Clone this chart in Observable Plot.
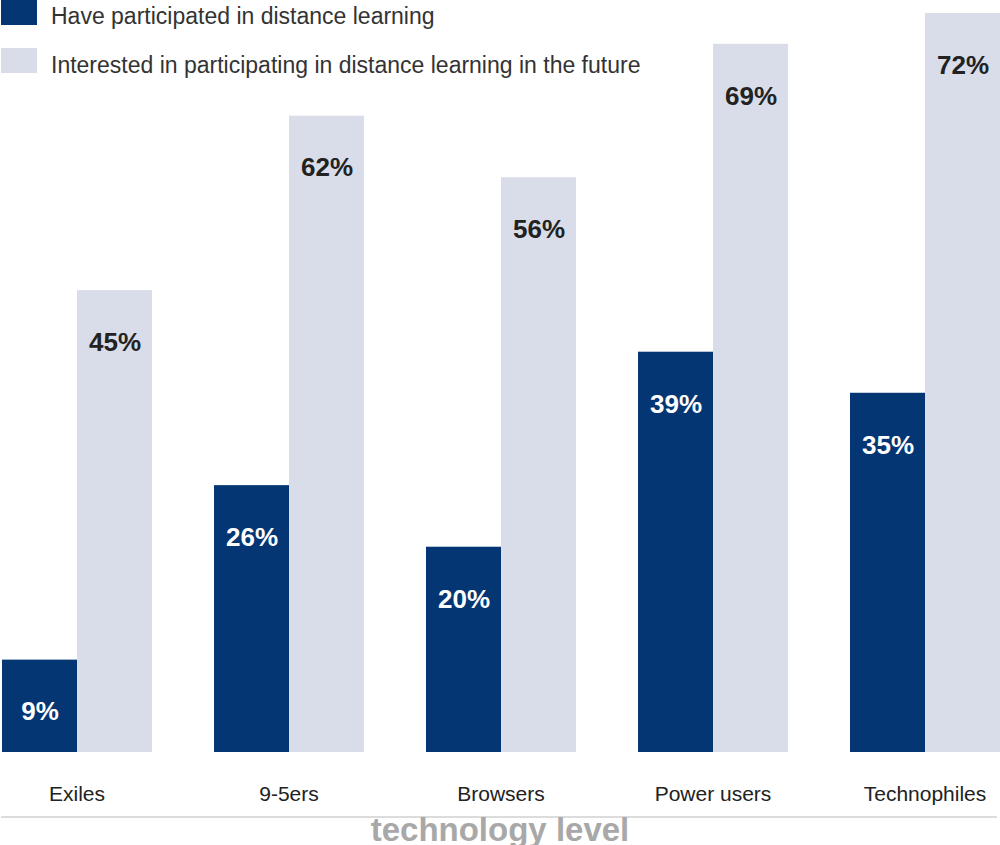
<!DOCTYPE html>
<html>
<head>
<meta charset="utf-8">
<script src="https://cdn.jsdelivr.net/npm/d3@7"></script>
<script src="https://cdn.jsdelivr.net/npm/@observablehq/plot@0.6"></script>
<style>
  html, body { margin: 0; padding: 0; background: #fff; }
  body { font-family: "Liberation Sans", Arial, sans-serif; }
  #wrap { position: relative; width: 1000px; height: 845px; overflow: hidden; }
  #chart { position: absolute; left: 0; top: 0; }
  .sw { position: absolute; left: 1px; width: 36px; height: 25px; }
  .lt { position: absolute; left: 51px; font-size: 23px; line-height: 23px; color: #333; white-space: nowrap; }
  #rule { position: absolute; left: 1px; top: 816px; width: 996px; height: 2px; background: #dcdcdc; }
  #caption { position: absolute; left: 0; width: 1000px; top: 813px; text-align: center; font-size: 33px; line-height: 33px; font-weight: bold; color: #a8a8a8; }
</style>
</head>
<body>
<div id="wrap">
  <div id="chart"></div>
  <div id="legend"></div>
  <div id="rule"></div>
  <div id="caption">technology level</div>
</div>
<script>
const categories = ["Exiles", "9-5ers", "Browsers", "Power users", "Technophiles"];
const participated = [9, 26, 20, 39, 35];
const interested = [45, 62, 56, 69, 72];
const seriesNames = [
  "Have participated in distance learning",
  "Interested in participating in distance learning in the future"
];
const seriesColors = ["#043673", "#d9dde9"];

const data = categories.flatMap((c, i) => [
  {category: c, series: seriesNames[0], value: participated[i]},
  {category: c, series: seriesNames[1], value: interested[i]}
]);

const chart = Plot.plot({
  width: 1000,
  height: 815,
  marginTop: 13,
  marginBottom: 63,
  marginLeft: 1,
  marginRight: 0,
  style: {fontFamily: '"Liberation Sans", Arial, sans-serif', background: "#fff"},
  fx: {domain: categories, paddingInner: 61 / 212, paddingOuter: 0, label: null},
  x: {domain: seriesNames, padding: 0, axis: null},
  y: {domain: [0, 72], axis: null},
  color: {domain: seriesNames, range: seriesColors},
  marks: [
    Plot.barY(data, {fx: "category", x: "series", y: "value", fill: "series"}),
    Plot.text(data, {
      fx: "category", x: "series", y: "value",
      text: d => d.value + "%",
      dy: 52,
      fill: d => d.series === seriesNames[0] ? "#ffffff" : "#222222",
      fontSize: 26, fontWeight: "bold"
    }),
    Plot.axisFx({anchor: "bottom", tickSize: 0, tickPadding: 34, fontSize: 21, label: null, fill: "#222"})
  ]
});
document.getElementById("chart").appendChild(chart);

const legend = document.getElementById("legend");
const tops = [0, 48];
const textTops = [5, 54];
seriesNames.forEach((name, i) => {
  const sw = document.createElement("div");
  sw.className = "sw";
  sw.style.top = tops[i] + "px";
  sw.style.background = seriesColors[i];
  legend.appendChild(sw);
  const t = document.createElement("div");
  t.className = "lt";
  t.style.top = textTops[i] + "px";
  t.textContent = name;
  legend.appendChild(t);
});
</script>
</body>
</html>
